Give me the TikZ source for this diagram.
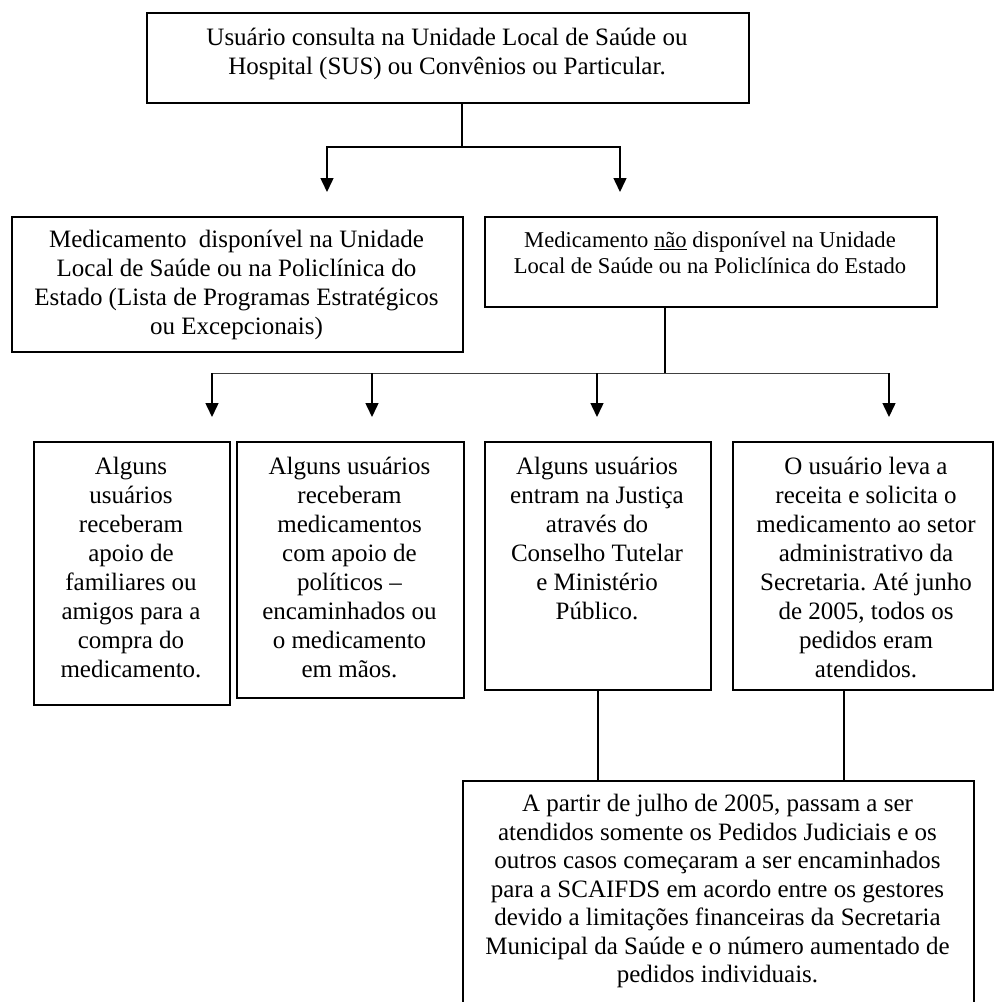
\documentclass[tikz,border=0pt]{standalone}
\usepackage{fontspec}
\setmainfont{Liberation Serif}
\frenchspacing
\usetikzlibrary{arrows.meta}
\begin{document}
\begin{tikzpicture}[x=1pt,y=-1pt,
  box/.style={draw, line width=1.5pt, rectangle, inner sep=0pt, anchor=north west},
  txt/.style={align=center, inner sep=0pt, anchor=north, font=\fontsize{25}{29}\selectfont},
  txtsmall/.style={align=center, inner sep=0pt, anchor=north, font=\fontsize{22.6}{26.5}\selectfont},
  conn/.style={line width=1.5pt},
  hline/.style={line width=1pt, draw=black!75},
  arr/.style={line width=1.5pt, -{Triangle[length=14pt,width=13pt]}},
]
\useasboundingbox (0,0) rectangle (994,1002);
\clip (0,0) rectangle (994,1002);

% boxes
\node[box, minimum width=602pt, minimum height=90pt] (top) at (146,12) {};
\node[box, minimum width=451pt, minimum height=135pt] (lm) at (11,216) {};
\node[box, minimum width=452pt, minimum height=90pt] (rm) at (484,216) {};
\node[box, minimum width=196pt, minimum height=263pt] (b1) at (33,441) {};
\node[box, minimum width=227pt, minimum height=256pt] (b2) at (236,441) {};
\node[box, minimum width=226pt, minimum height=248pt] (b3) at (484,441) {};
\node[box, minimum width=260pt, minimum height=248pt] (b4) at (732,441) {};
\node[box, minimum width=511pt, minimum height=240pt] (b5) at (462,780) {};

% texts
\node[txt] (toptxt) at (447,24.7) {\strut Usuário consulta na Unidade Local de Saúde ou\\Hospital (SUS) ou Convênios ou Particular.};
\node[txt] (lmtxt) at (236.5,226.7) {\strut Medicamento\hspace{0.25em} disponível na Unidade\\Local de Saúde ou na Policlínica do\\Estado (Lista de Programas Estratégicos\\ou Excepcionais)};
\node[txtsmall] (rmtxt) at (710,228.5) {\strut Medicamento \underline{não} disponível na Unidade\\Local de Saúde ou na Policlínica do Estado};
\node[txt] (b1txt) at (131,453.7) {\strut Alguns\\usuários\\receberam\\apoio de\\familiares ou\\amigos para a\\compra do\\medicamento.};
\node[txt] (b2txt) at (349.5,453.7) {\strut Alguns usuários\\receberam\\medicamentos\\com apoio de\\políticos –\\encaminhados ou\\o medicamento\\em mãos.};
\node[txt] (b3txt) at (597,453.7) {\strut Alguns usuários\\entram na Justiça\\através do\\Conselho Tutelar\\e Ministério\\Público.};
\node[txt] (b4txt) at (866,453.7) {\strut O usuário leva a\\receita e solicita o\\medicamento ao setor\\administrativo da\\Secretaria. Até junho\\de 2005, todos os\\pedidos eram\\atendidos.};
\node[txt, font=\fontsize{25}{28.5}\selectfont] (b5txt) at (717.5,791.7) {\strut A partir de julho de 2005, passam a ser\\atendidos somente os Pedidos Judiciais e os\\outros casos começaram a ser encaminhados\\para a SCAIFDS em acordo entre os gestores\\devido a limitações financeiras da Secretaria\\Municipal da Saúde e o número aumentado de\\pedidos individuais.};

% junctions and arrow ends
\coordinate (j1) at (462,147);
\coordinate (t1) at (327,192);
\coordinate (t2) at (620,192);
\coordinate (j2) at (665,373);
\coordinate (a1) at (212,417);
\coordinate (a2) at (372,417);
\coordinate (a3) at (597,417);
\coordinate (a4) at (889,417);
\coordinate (k4) at (844,700);

% connectors
\draw[conn] (j1 |- top.south) -- (j1);
\draw[arr] (j1) -| (t1);
\draw[arr] (j1) -| (t2);
\draw[conn] (j2 |- rm.south) -- (j2);
\draw[hline] (a1 |- j2) -- (a4 |- j2);
\draw[arr] (a1 |- j2) -- (a1);
\draw[arr] (a2 |- j2) -- (a2);
\draw[arr] (a3 |- j2) -- (a3);
\draw[arr] (a4 |- j2) -- (a4);
\draw[conn] (b3.south) -- (b3.south |- b5.north);
\draw[conn] (k4 |- b4.south) -- (k4 |- b5.north);
\end{tikzpicture}
\end{document}
